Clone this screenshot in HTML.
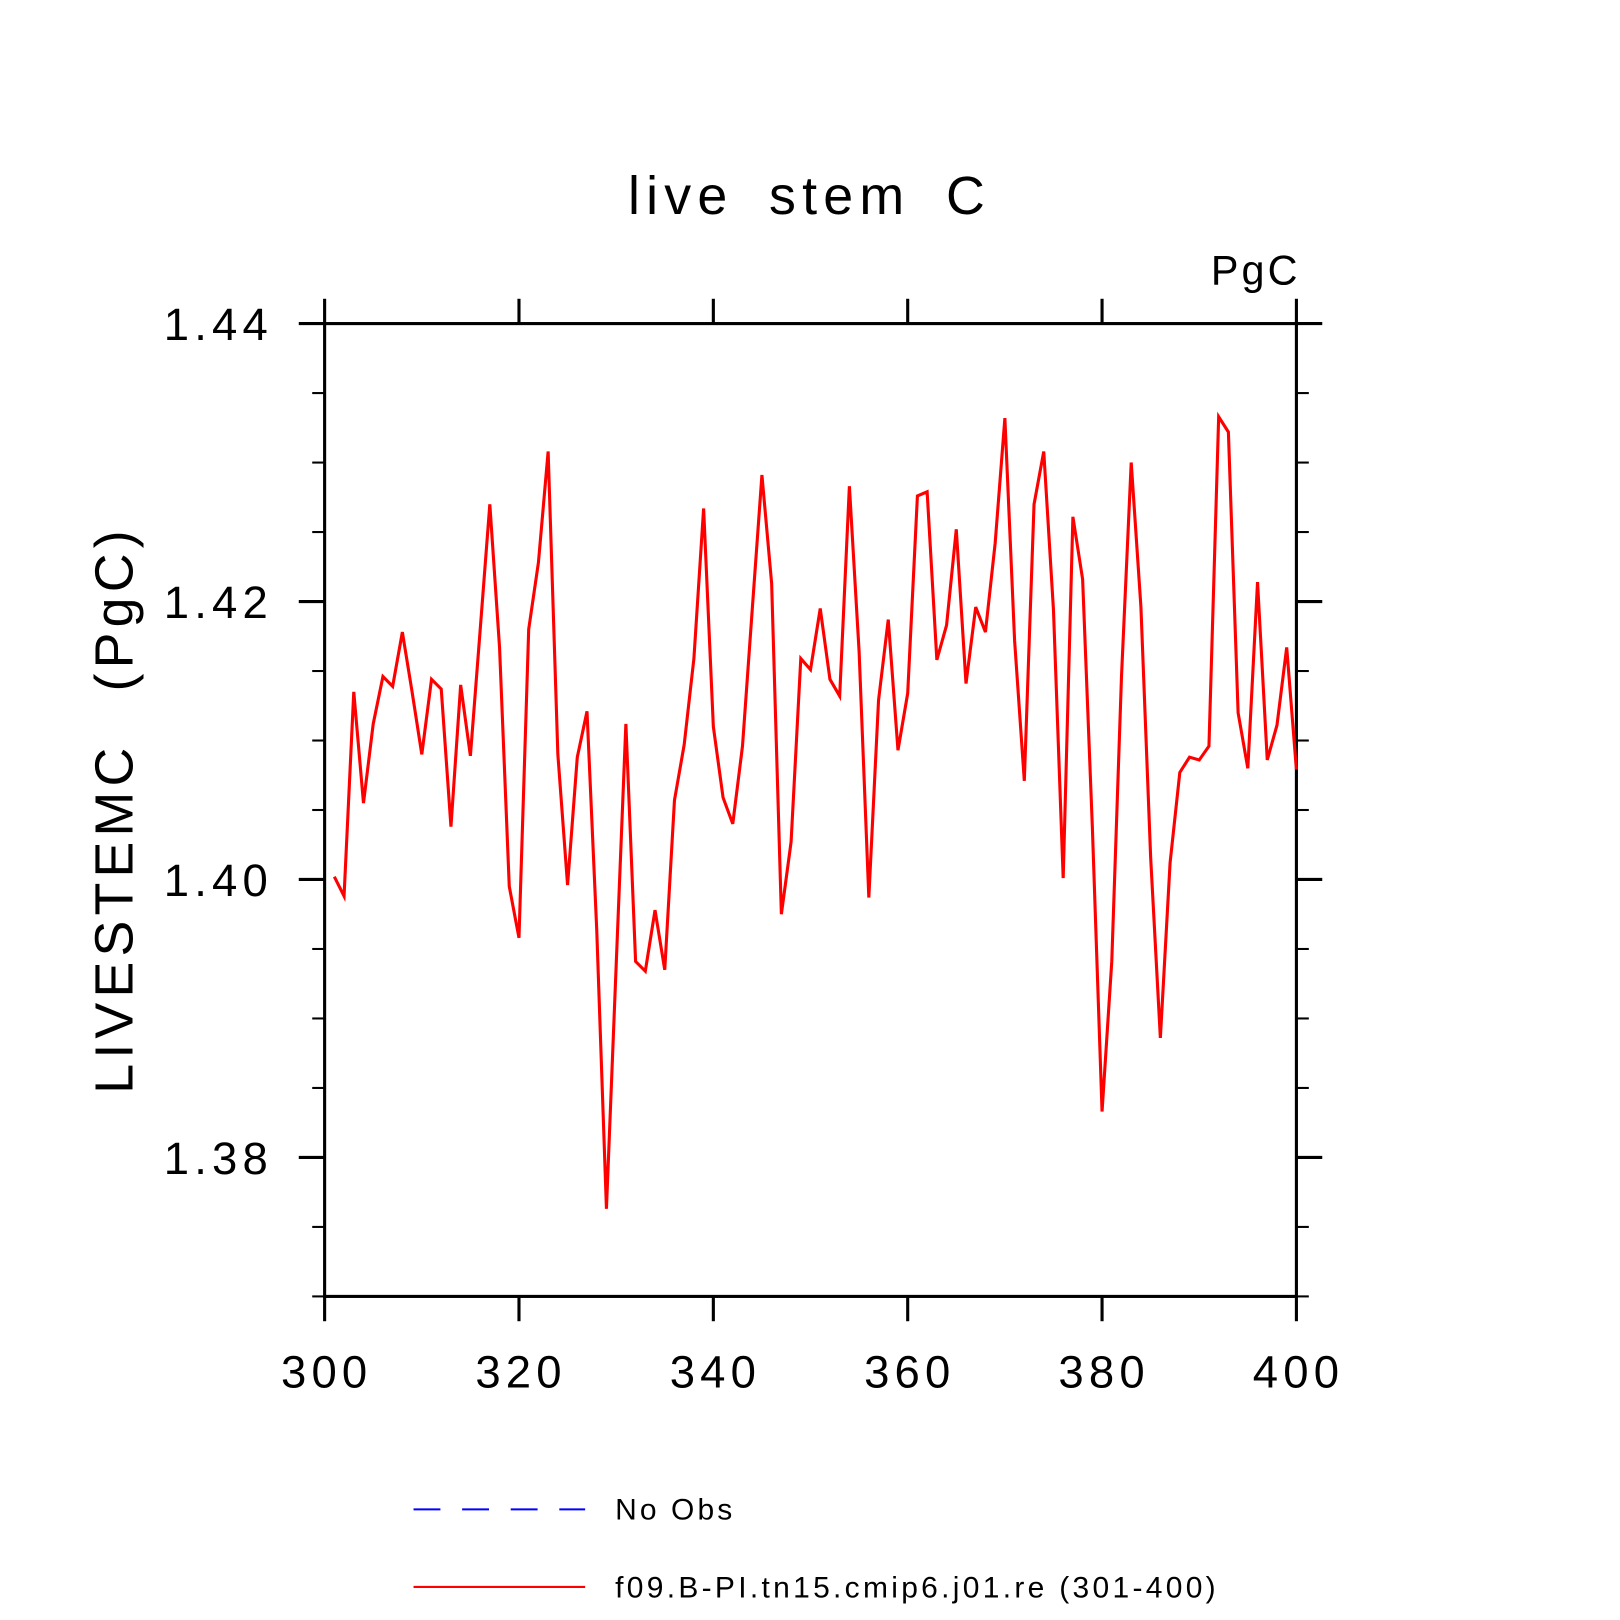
<!DOCTYPE html>
<html><head><meta charset="utf-8"><style>
html,body{margin:0;padding:0;background:#fff;}
svg{display:block;font-family:"Liberation Sans",sans-serif;}
</style></head><body>
<svg id="chart" width="1620" height="1620" viewBox="0 0 1567 1567" xmlns="http://www.w3.org/2000/svg">
<text x="783" y="207" font-size="52" text-anchor="middle" fill="#000" letter-spacing="6" word-spacing="14">live stem C</text>
<text x="1258" y="275" font-size="40" text-anchor="end" fill="#000" letter-spacing="3">PgC</text>
<text transform="translate(128,783) rotate(-90)" font-size="52" text-anchor="middle" fill="#000" letter-spacing="5" word-spacing="30">LIVESTEMC (PgC)</text>
<g id="axes"></g>
<g id="series"></g>
<g>
<line x1="400" y1="1460" x2="566" y2="1460" stroke="#0000ff" stroke-width="2" stroke-dasharray="26,21"/>
<text x="595" y="1470" font-size="29" fill="#000" letter-spacing="3">No Obs</text>
<line x1="400" y1="1535" x2="566" y2="1535" stroke="#ff0000" stroke-width="2"/>
<text x="595" y="1545" font-size="29" fill="#000" letter-spacing="3.2">f09.B-PI.tn15.cmip6.j01.re (301-400)</text>
</g>
</svg>
<script>
const years = [];
for (let i = 301; i <= 400; i++) years.push(i);
const values = [1.4002,1.3988,1.4135,1.4055,1.4112,1.4146,1.4139,1.4178,1.4135,1.4090,
1.4144,1.4137,1.4038,1.4140,1.4089,1.4179,1.4270,1.4167,1.3995,1.3958,
1.4180,1.4228,1.4308,1.4090,1.3996,1.4088,1.4121,1.3964,1.3763,1.3938,
1.4112,1.3941,1.3934,1.3978,1.3935,1.4057,1.4097,1.4159,1.4267,1.4110,
1.4059,1.4040,1.4096,1.4194,1.4291,1.4213,1.3975,1.4027,1.4159,1.4151,
1.4195,1.4144,1.4132,1.4283,1.4164,1.3987,1.4129,1.4187,1.4093,1.4134,
1.4276,1.4279,1.4158,1.4183,1.4252,1.4141,1.4196,1.4178,1.4242,1.4332,
1.4172,1.4071,1.4270,1.4308,1.4194,1.4001,1.4261,1.4216,1.4038,1.3833,
1.3941,1.4146,1.4300,1.4196,1.4016,1.3886,1.4012,1.4077,1.4088,1.4086,
1.4096,1.4333,1.4322,1.4120,1.4080,1.4214,1.4086,1.4111,1.4167,1.4079];
const xTicks = [300,320,340,360,380,400];
const yTicks = [1.38,1.40,1.42,1.44];
const yTickLabels = ["1.38","1.40","1.42","1.44"];
const yMinor = [1.37,1.375,1.385,1.39,1.395,1.405,1.41,1.415,1.425,1.43,1.435];

const L=314,R=1254,T=313,B=1254,XMIN=300,XMAX=400,YMIN=1.37,YMAX=1.44;
const sx=v=>L+(v-XMIN)/(XMAX-XMIN)*(R-L);
const sy=v=>B-(v-YMIN)/(YMAX-YMIN)*(B-T);
const NS="http://www.w3.org/2000/svg";
const axes=document.getElementById('axes');
function ln(x1,y1,x2,y2,w,name){const e=document.createElementNS(NS,'line');
e.setAttribute('x1',x1);e.setAttribute('y1',y1);e.setAttribute('x2',x2);e.setAttribute('y2',y2);
e.setAttribute('stroke','#000');e.setAttribute('stroke-width',w);


axes.appendChild(e);return e;}
function tx(x,y,s,anchor,name){const e=document.createElementNS(NS,'text');
e.setAttribute('x',x);e.setAttribute('y',y);e.setAttribute('font-size','44');e.setAttribute('text-anchor',anchor);
e.setAttribute('letter-spacing','5');
e.textContent=s;


axes.appendChild(e);}
const fr=document.createElementNS(NS,'rect');
fr.setAttribute('x',L);fr.setAttribute('y',T);fr.setAttribute('width',R-L);fr.setAttribute('height',B-T);
fr.setAttribute('fill','none');fr.setAttribute('stroke','#000');fr.setAttribute('stroke-width','3');


axes.appendChild(fr);
xTicks.forEach(v=>{const x=sx(v);
ln(x,B,x,B+24,3,'x-tick');ln(x,T,x,T-24,3,'x-tick-top');
tx(x+2,B+88,String(v),'middle','x-tick-label');});
yTicks.forEach((v,i)=>{const y=sy(v);
ln(L-25,y,L,y,3,'y-tick');ln(R,y,R+25,y,3,'y-tick-right');
tx(L-50,y+16,yTickLabels[i],'end','y-tick-label');});
yMinor.forEach(v=>{const y=sy(v);ln(L-12,y,L,y,2,'y-minor-tick');ln(R,y,R+12,y,2,'y-minor-tick-right');});

const pts=years.map((y,i)=>sx(y).toFixed(1)+','+sy(values[i]).toFixed(1)).join(' ');
const pl=document.createElementNS(NS,'polyline');
pl.setAttribute('points',pts);pl.setAttribute('fill','none');pl.setAttribute('stroke','#ff0000');
pl.setAttribute('stroke-width','3');pl.setAttribute('stroke-linejoin','miter');


document.getElementById('series').appendChild(pl);
</script>
</body></html>
